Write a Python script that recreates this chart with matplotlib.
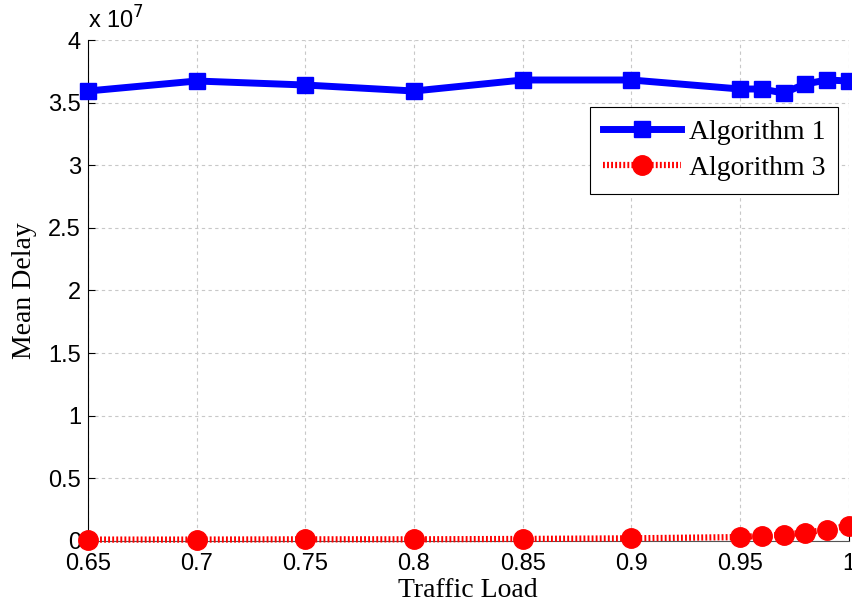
import numpy as np
import matplotlib
matplotlib.use("Agg")
from matplotlib import pyplot as plt

load = [0.65, 0.7, 0.75, 0.8, 0.85, 0.9, 0.95, 0.96, 0.97, 0.98, 0.99, 1.0]
alg1 = [3.593, 3.673, 3.641, 3.593, 3.681, 3.681, 3.609, 3.609, 3.577, 3.649, 3.681, 3.673]
alg3 = [0.01, 0.01, 0.012, 0.012, 0.015, 0.02, 0.03, 0.04, 0.05, 0.065, 0.09, 0.12]
xticks = [0.65, 0.7, 0.75, 0.8, 0.85, 0.9, 0.95, 1]
xticklabels = ["0.65", "0.7", "0.75", "0.8", "0.85", "0.9", "0.95", "1"]
yticks = [0, 0.5, 1, 1.5, 2, 2.5, 3, 3.5, 4]
yticklabels = ["0", "0.5", "1", "1.5", "2", "2.5", "3", "3.5", "4"]

fig = plt.figure(figsize=(8.53, 6.07), dpi=100)
ax = fig.add_axes([0.103, 0.109, 0.892, 0.825])

ax.plot(load, alg1, color="blue", lw=5, marker="s", ms=12, label="Algorithm 1",
        clip_on=False, zorder=3)
ax.plot(load, alg3, color="red", lw=4.5, ls=(0, (0.3, 0.35)), marker="o", ms=14,
        label="Algorithm 3", clip_on=False, zorder=3)

ax.set_xlim(0.65, 1)
ax.set_ylim(0, 4)
ax.set_xticks(xticks)
ax.set_xticklabels(xticklabels, fontfamily="Liberation Sans", fontsize=17)
ax.set_yticks(yticks)
ax.set_yticklabels(yticklabels, fontfamily="Liberation Sans", fontsize=17)
ax.tick_params(axis="x", direction="in", length=5, pad=9)
ax.tick_params(axis="y", direction="in", length=5, pad=5)
ax.grid(True, ls=(0, (3, 3)), color="#c8c8c8", lw=0.8)

for s in ["top", "right"]:
    ax.spines[s].set_visible(False)
ax.spines["left"].set_color("black")
ax.spines["bottom"].set_color("#555555")

ax.set_xlabel("Traffic Load", fontfamily="Liberation Serif", fontsize=20, labelpad=2)
ax.set_ylabel("Mean Delay", fontfamily="Liberation Serif", fontsize=20, labelpad=8)
ax.text(0.0, 1.012, r"x 10$^7$", transform=ax.transAxes, fontfamily="Liberation Sans",
        fontsize=17, ha="left", va="bottom")

leg = ax.legend(loc="upper right", bbox_to_anchor=(0.986, 0.866), fancybox=False,
                edgecolor="black", framealpha=1, handlelength=2.8, borderaxespad=0,
                prop={"family": "Liberation Serif", "size": 20}, borderpad=0.45,
                labelspacing=0.38, handletextpad=0.3)
leg.get_frame().set_linewidth(0.8)

fig.savefig("out.png", dpi=100)
